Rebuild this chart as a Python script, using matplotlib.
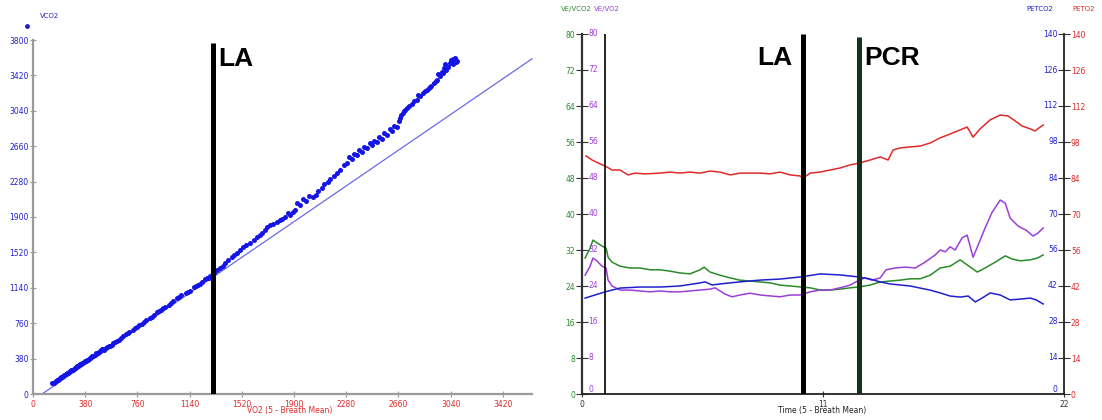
import numpy as np
import matplotlib
matplotlib.use("Agg")
import matplotlib.pyplot as plt

# ---- left panel: V-slope (VCO2 vs VO2) ----
vo2 = [136, 150, 165, 180, 195, 210, 228, 245, 262, 280, 296, 312, 330, 345, 360,
       378, 392, 410, 425, 440, 455, 470, 490, 505, 520, 540, 560, 585, 610, 640,
       675, 700, 730, 760, 790, 820, 850, 880, 905, 930, 960, 990, 1020, 1050, 1080,
       1110, 1140, 1170, 1200, 1230, 1255, 1280, 1300,
       158, 172, 188, 203, 220, 237, 254, 271, 288, 304, 321, 338, 352, 369, 385,
       400, 418, 432, 448, 462, 480, 498, 512, 530, 550, 572, 598, 625, 655, 688,
       745, 775, 805, 865, 918, 945, 1005, 1065, 1125, 1185, 1215, 1268, 1290,
       1449, 1485, 1529, 1579, 1630, 1667, 1703, 1747, 1798, 1834, 1871, 1907, 1943,
       1986, 2038, 2075, 2103, 2147, 2190, 2234, 2285, 2321, 2358, 2394, 2431, 2467,
       2503, 2540, 2576, 2613, 2649, 2663, 2678, 2700, 2722, 2758, 2794, 2817, 2838,
       2867, 2889, 2918, 2940, 2962, 2984, 3005, 3021, 3035, 3049, 3071, 3086,
       2880, 2930, 2990, 3060,
       1320, 1340, 1360, 1380, 1400, 1420, 1465, 1505, 1550, 1605, 1650, 1685, 1725,
       1775, 1815, 1855, 1890, 1925, 1965, 2010, 2060, 2120, 2165, 2210, 2260, 2300,
       2340, 2375, 2410, 2450, 2485, 2520, 2558, 2595, 2630, 2668, 2690, 2710, 2740,
       2775, 2805, 2850, 2900, 2950, 2975, 3000, 3040, 3060, 3080]
vco2 = [118, 122, 140, 152, 168, 185, 200, 222, 236, 255, 268, 290, 303, 318, 335,
        350, 362, 380, 398, 410, 428, 445, 462, 478, 470, 500, 520, 545, 570, 600,
        640, 665, 690, 720, 755, 790, 815, 845, 880, 900, 935, 960, 1000, 1030, 1060,
        1080, 1110, 1145, 1170, 1200, 1230, 1250, 1275,
        128, 146, 160, 178, 192, 212, 229, 246, 262, 280, 296, 312, 326, 342, 356,
        370, 390, 404, 420, 436, 452, 470, 488, 494, 512, 530, 558, 585, 620, 652,
        705, 740, 770, 830, 890, 918, 980, 1045, 1095, 1158, 1185, 1240, 1262,
        1470, 1513, 1577, 1620, 1685, 1728, 1792, 1824, 1867, 1899, 1921, 1974, 2028,
        2071, 2114, 2178, 2210, 2275, 2339, 2404, 2479, 2522, 2564, 2597, 2640, 2672,
        2704, 2736, 2779, 2822, 2865, 2929, 2994, 3037, 3069, 3112, 3155, 3198, 3230,
        3262, 3294, 3337, 3369, 3412, 3444, 3477, 3509, 3552, 3584, 3605, 3573,
        3290, 3360, 3500, 3540,
        1300, 1330, 1350, 1370, 1410, 1440, 1492, 1545, 1600, 1655, 1705, 1760, 1810,
        1850, 1880, 1945, 1950, 2050, 2090, 2130, 2140, 2250, 2310, 2375, 2455, 2540,
        2575, 2620, 2655, 2690, 2720, 2755, 2800, 2845, 2880, 2960, 3020, 3050, 3090,
        3140, 3210, 3250, 3310, 3430, 3460, 3540, 3590, 3600, 3565]
ref_x = [66, 3632]
ref_y = [0, 3598]
la_vo2 = 1310
slope_ticks = list(range(0, 3801, 380))

# ---- right panel: ventilatory equivalents / end-tidal pressures ----
t_red = [0.18, 0.46, 0.82, 1.05, 1.37, 1.74, 2.10, 2.42, 2.88, 3.56, 4.02, 4.47, 4.93,
         5.39, 5.84, 6.30, 6.76, 7.21, 7.67, 8.13, 8.58, 9.04, 9.50, 9.95, 10.09, 10.41,
         10.87, 11.32, 11.78, 12.24, 12.65, 13.15, 13.61, 13.97, 14.20, 14.52, 14.98,
         15.43, 15.89, 16.35, 16.80, 17.26, 17.58, 17.85, 18.17, 18.63, 19.09, 19.45,
         19.77, 20.09, 20.46, 20.68, 20.91, 21.05]
peto2 = [92.6, 91.0, 89.5, 88.7, 87.1, 87.1, 85.2, 85.9, 85.6, 85.9, 86.3, 85.9, 86.3,
         85.9, 86.7, 86.3, 85.2, 85.9, 85.9, 85.9, 85.6, 86.3, 85.2, 84.8, 84.0, 85.9,
         86.3, 87.1, 87.9, 89.1, 89.8, 91.0, 92.2, 91.0, 94.9, 95.7, 96.1, 96.4, 97.6,
         99.6, 101.1, 102.7, 103.8, 99.9, 103.1, 106.6, 108.5, 108.1, 106.2, 104.2,
         103.1, 102.3, 103.8, 104.6]

t_green = [0.14, 0.37, 0.50, 0.68, 0.91, 1.10, 1.19, 1.37, 1.74, 2.19, 2.65, 3.11, 3.56,
           4.02, 4.47, 4.93, 5.39, 5.57, 5.84, 6.30, 6.76, 7.21, 7.67, 8.13, 8.58, 9.04,
           9.50, 9.95, 10.41, 10.87, 11.32, 11.78, 12.24, 12.65, 13.15, 13.61, 14.06,
           14.52, 14.98, 15.43, 15.89, 16.35, 16.80, 17.26, 17.58, 18.04, 18.40, 18.86,
           19.32, 19.63, 20.00, 20.46, 20.78, 21.05]
ve_vco2 = [30.2, 32.4, 34.2, 33.6, 32.9, 32.4, 30.4, 29.3, 28.4, 28.0, 28.0, 27.6, 27.6,
           27.3, 26.9, 26.7, 27.6, 28.2, 27.1, 26.4, 25.8, 25.3, 25.1, 24.9, 24.7, 24.2,
           24.0, 23.8, 23.6, 23.1, 23.1, 23.3, 23.6, 23.8, 24.2, 24.9, 25.1, 25.3, 25.6,
           25.6, 26.4, 28.0, 28.4, 29.8, 28.7, 27.1, 28.0, 29.3, 30.7, 30.0, 29.6, 29.8,
           30.2, 30.9]

t_purple = [0.14, 0.37, 0.50, 0.68, 0.91, 1.10, 1.19, 1.37, 1.74, 2.19, 2.65, 3.11, 3.56,
            4.02, 4.47, 4.93, 5.39, 5.84, 6.07, 6.30, 6.53, 6.85, 7.21, 7.67, 8.13, 8.58,
            9.04, 9.50, 9.95, 10.41, 10.87, 11.32, 11.78, 12.24, 12.65, 12.92, 13.24,
            13.61, 13.88, 14.29, 14.75, 15.21, 15.66, 16.12, 16.35, 16.58, 16.80, 17.03,
            17.35, 17.58, 17.85, 18.08, 18.40, 18.72, 19.09, 19.32, 19.54, 19.91, 20.27,
            20.59, 20.82, 21.05]
ve_vo2 = [26.4, 28.4, 30.2, 29.6, 28.4, 28.0, 25.3, 24.0, 23.1, 23.1, 22.9, 22.7, 22.9,
          22.7, 22.7, 22.9, 23.1, 23.3, 23.6, 22.9, 22.2, 21.6, 22.0, 22.4, 22.0, 21.8,
          21.6, 22.0, 22.0, 22.7, 23.1, 23.1, 23.6, 24.2, 25.3, 25.8, 25.3, 25.8, 27.6,
          28.0, 28.2, 28.0, 29.3, 30.9, 32.0, 31.6, 32.7, 32.0, 34.7, 35.3, 30.4, 33.1,
          36.9, 40.4, 43.1, 42.4, 39.1, 37.3, 36.4, 35.1, 35.8, 36.9]

t_blue = [0.14, 0.59, 1.05, 1.74, 2.65, 3.56, 4.47, 5.39, 5.62, 5.94, 6.30, 7.21, 8.13,
          9.04, 9.95, 10.87, 11.78, 12.65, 13.15, 13.61, 14.06, 14.52, 14.98, 15.43,
          15.89, 16.35, 16.80, 17.26, 17.63, 17.95, 18.26, 18.63, 19.09, 19.54, 20.00,
          20.46, 20.73, 21.05]
petco2 = [37.3, 38.5, 39.7, 41.2, 41.6, 41.6, 42.0, 43.2, 43.6, 42.4, 42.8, 43.6, 44.3,
          44.7, 45.5, 46.7, 46.3, 45.5, 44.7, 43.6, 42.8, 42.4, 42.0, 41.2, 40.4, 39.3,
          38.1, 37.7, 38.1, 35.8, 37.3, 39.3, 38.5, 36.6, 36.9, 37.3, 36.6, 35.0]

start_t = 1.05
la_t = 10.1
pcr_t = 12.65
left_ticks = list(range(0, 81, 8))
right_ticks = list(range(0, 141, 14))

GREEN = '#2b8a2b'
PURPLE = '#9a3fd6'
BLUE = '#2020d0'
RED = '#e02a2a'
fs = 5.5
hfs = 5

fig = plt.figure(figsize=(11.02, 4.2), dpi=100)

# left panel
ax1 = fig.add_axes([33 / 1102, 26 / 420, 499 / 1102, 354 / 420])
ax1.set_xlim(0, 3632)
ax1.set_ylim(0, 3800)
for s in ['top', 'right']:
    ax1.spines[s].set_visible(False)
for s in ['left', 'bottom']:
    ax1.spines[s].set_color('#9a9a9a')
    ax1.spines[s].set_linewidth(1.6)
ax1.set_xticks(slope_ticks[:-1])
ax1.set_yticks(slope_ticks)
ax1.tick_params(axis='x', colors='#9a9a9a', labelcolor=RED, labelsize=fs, direction='inout', length=4, pad=2)
ax1.tick_params(axis='y', colors='#9a9a9a', labelcolor=BLUE, labelsize=fs, direction='inout', length=4, pad=1)
ax1.plot(ref_x, ref_y, color='#6a6ae8', lw=0.9, clip_on=False)
ax1.plot(vo2, vco2, 'o', ms=3.6, color='#1414e6', mec='none', clip_on=False)
ax1.vlines(la_vo2, 0, 3770, color='black', lw=3.6, zorder=5)
ax1.text(la_vo2 + 35, 3600, 'LA', fontsize=19, weight='bold', va='center', ha='left',
         family='Liberation Sans')
ax1.plot([-0.012], [1.04], 'o', ms=2.5, color=BLUE, transform=ax1.transAxes, clip_on=False)
fig.text(40 / 1102, 1 - 16 / 420, 'VCO2', color=BLUE, fontsize=hfs, ha='left', va='center')
fig.text(290 / 1102, 1 - 411 / 420, 'VO2 (5 - Breath Mean)', color=RED, fontsize=fs,
         ha='center', va='center')

# right panel
ax2 = fig.add_axes([582 / 1102, 26 / 420, 482 / 1102, 360 / 420])
ax2.set_xlim(0, 22)
ax2.set_ylim(0, 80)
ax3 = ax2.twinx()
ax3.set_ylim(0, 140)
for a in (ax2, ax3):
    a.spines['top'].set_visible(False)
ax2.spines['right'].set_visible(False)
ax3.spines['left'].set_visible(False)
ax3.spines['bottom'].set_visible(False)
ax2.spines['left'].set_color('#333333')
ax2.spines['left'].set_linewidth(1.6)
ax2.spines['bottom'].set_color('#222222')
ax2.spines['bottom'].set_linewidth(1.3)
ax3.spines['right'].set_color('#222222')
ax3.spines['right'].set_linewidth(1.3)

ax2.set_xticks([0, 11, 22])
ax2.tick_params(axis='x', labelsize=fs, direction='inout', length=4, pad=2, colors='#333333')
ax2.set_yticks(left_ticks)
ax2.tick_params(axis='y', labelcolor=GREEN, labelsize=fs, direction='inout', length=8, pad=1,
                colors='#333333')
ax3.set_yticks(right_ticks)
ax3.tick_params(axis='y', labelcolor=RED, labelsize=fs, direction='inout', length=8, pad=1,
                colors='#333333')
for v in left_ticks:
    ax2.text(0.013, v, str(v), color=PURPLE, fontsize=fs, ha='left',
             va='bottom' if v == 0 else 'center', transform=ax2.get_yaxis_transform())
for v in right_ticks:
    ax3.text(0.987, v, str(v), color=BLUE, fontsize=fs, ha='right',
             va='bottom' if v == 0 else 'center', transform=ax3.get_yaxis_transform())

ax2.plot(t_green, ve_vco2, color=GREEN, lw=1.1)
ax2.plot(t_purple, ve_vo2, color=PURPLE, lw=1.1)
ax3.plot(t_red, peto2, color=RED, lw=1.1)
ax3.plot(t_blue, petco2, color=BLUE, lw=1.1)

ax3.vlines(start_t, 0, 140, color='black', lw=1.2, zorder=6)
ax3.vlines(la_t, 0, 140, color='black', lw=3.6, zorder=6)
ax3.vlines(pcr_t, 0, 139, color='#16331a', lw=3.6, zorder=6)
ax3.text(8.0, 130.5, 'LA', fontsize=19, weight='bold', va='center', ha='left',
         family='Liberation Sans')
ax3.text(12.9, 130.5, 'PCR', fontsize=19, weight='bold', va='center', ha='left',
         family='Liberation Sans')

fig.text(822 / 1102, 1 - 411 / 420, 'Time (5 - Breath Mean)', color='#222222', fontsize=fs,
         ha='center', va='center')
fig.text(576 / 1102, 1 - 9 / 420, 'VE/VCO2', color=GREEN, fontsize=hfs, ha='center', va='center')
fig.text(607 / 1102, 1 - 9 / 420, 'VE/VO2', color=PURPLE, fontsize=hfs, ha='center', va='center')
fig.text(1040 / 1102, 1 - 9 / 420, 'PETCO2', color=BLUE, fontsize=hfs, ha='center', va='center')
fig.text(1084 / 1102, 1 - 9 / 420, 'PETO2', color=RED, fontsize=hfs, ha='center', va='center')

fig.savefig('out.png', dpi=100)
